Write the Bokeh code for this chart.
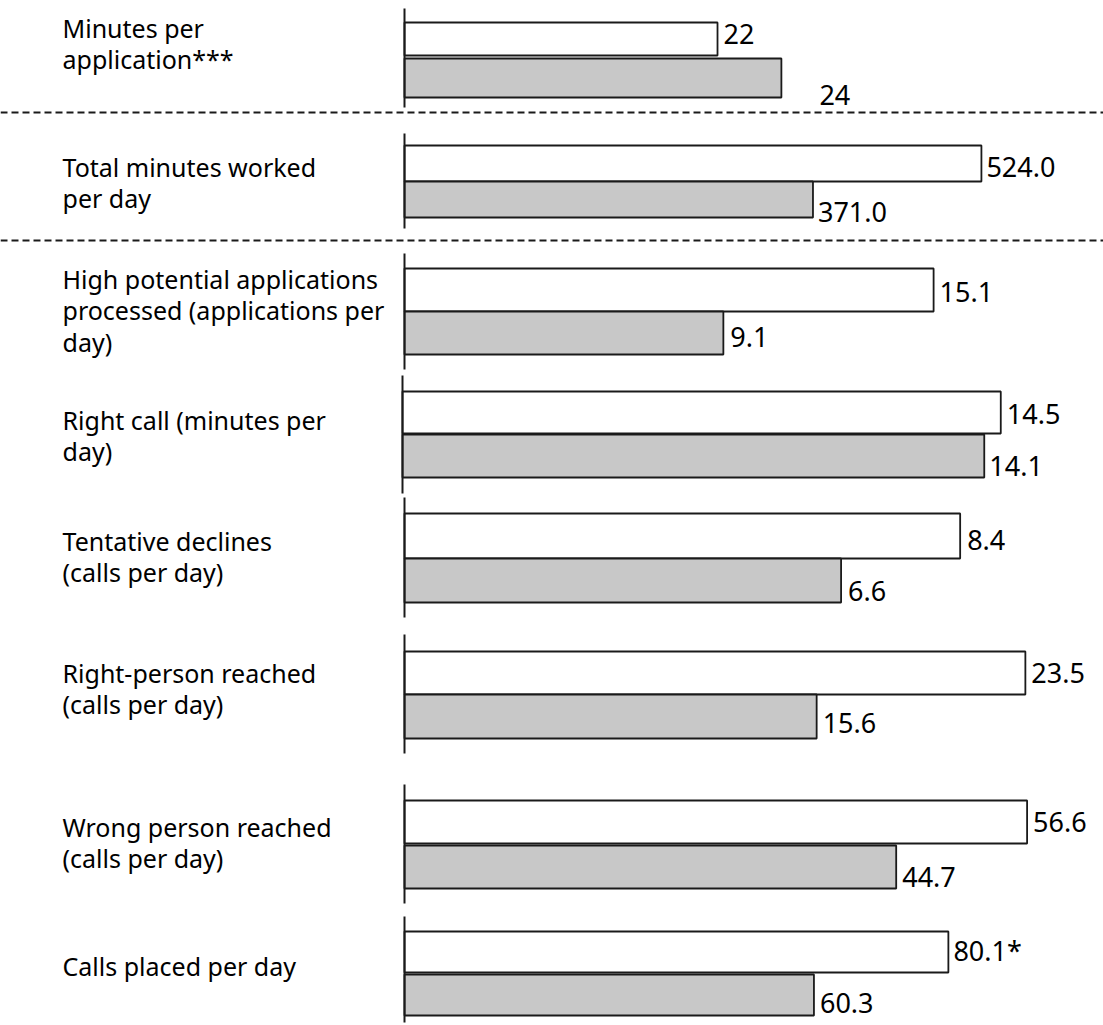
from bokeh.plotting import figure
from bokeh.models import Range1d
from bokeh.core.properties import value
from bokeh.embed import file_html
from bokeh.resources import INLINE

# ---------------- data ----------------
categories = [
    "Minutes per\napplication***",
    "Total minutes worked\nper day",
    "High potential applications\nprocessed (applications per\nday)",
    "Right call (minutes per\nday)",
    "Tentative declines\n(calls per day)",
    "Right-person reached\n(calls per day)",
    "Wrong person reached\n(calls per day)",
    "Calls placed per day",
]
white_values = [22, 524.0, 15.1, 14.5, 8.4, 23.5, 56.6, 80.1]
gray_values = [24, 371.0, 9.1, 14.1, 6.6, 15.6, 44.7, 60.3]
white_labels = ["22", "524.0", "15.1", "14.5", "8.4", "23.5", "56.6", "80.1*"]
gray_labels = ["24", "371.0", "9.1", "14.1", "6.6", "15.6", "44.7", "60.3"]

# per-panel scale: value at the panel's baseline and pixels per unit
panel_base = [12.2, 0, 0, 0, 0, 0, 0, 0]
px_per_unit = [31.94, 1.101, 35.04, 41.26, 66.15, 26.42, 11.0, 6.79]

# ---------------- layout (page pixels) ----------------
LEFT, RIGHT, TOP, BOTTOM = 0, 1103, 0, 1025
axis_px = [404, 404, 404, 402, 404, 404, 404, 404]
axis_span = [(8, 107), (133, 228), (253, 369), (375, 493), (497, 617), (634, 753), (784, 903), (916, 1022)]
white_band = [(22, 55), (145, 181), (268, 311), (391, 433), (513, 558), (651, 694), (800, 843), (931, 972)]
gray_band = [(58, 97), (181, 217), (311, 354), (434, 477), (558, 602), (694, 738), (845, 888), (974, 1015)]
label_center = [43, 182, 310, 435, 556, 688, 842, 965]
white_lab_dx = [6, 5, 6, 6, 7, 6, 6, 5]
white_lab_dy = [-5, 3, 2, 1, 4, 0, 0, -2]
gray_lab_dx = [38, 5, 7, 5, 7, 6, 6, 6]
gray_lab_dy = [17, 12, 4, 10, 10, 6, 10, 8]
dashed_y = [112, 240]

FONT = "Noto Sans"
GRAY = "#c8c8c8"
INK = "#1a1a1a"

p = figure(width=RIGHT - LEFT, height=BOTTOM - TOP,
           x_range=Range1d(LEFT, RIGHT), y_range=Range1d(BOTTOM, TOP),
           output_backend="svg", toolbar_location=None,
           x_axis_location=None, y_axis_location=None, min_border=0)
p.outline_line_color = None
p.xgrid.visible = False
p.ygrid.visible = False
p.background_fill_color = "white"
p.border_fill_color = "white"

for i in range(len(categories)):
    base = panel_base[i]
    s = px_per_unit[i]
    rname = f"panel{i}"
    p.extra_x_ranges[rname] = Range1d(base + (LEFT - axis_px[i]) / s,
                                      base + (RIGHT - axis_px[i]) / s)
    wc = (white_band[i][0] + white_band[i][1]) / 2
    gc = (gray_band[i][0] + gray_band[i][1]) / 2
    wh = white_band[i][1] - white_band[i][0]
    gh = gray_band[i][1] - gray_band[i][0]
    p.hbar(y=[wc, gc], left=base, right=[white_values[i], gray_values[i]],
           height=[wh, gh], fill_color=["white", GRAY], line_color=INK,
           line_width=1.8, x_range_name=rname)
    p.segment(x0=[base], y0=[axis_span[i][0]], x1=[base], y1=[axis_span[i][1]],
              line_color=INK, line_width=2, x_range_name=rname)
    p.text(x=[white_values[i]], y=[wc + white_lab_dy[i]], text=[white_labels[i]],
           x_offset=white_lab_dx[i], x_range_name=rname,
           text_baseline="middle", text_align="left",
           text_font=value(FONT), text_font_size="27px", text_color="black")
    p.text(x=[gray_values[i]], y=[gc + gray_lab_dy[i]], text=[gray_labels[i]],
           x_offset=gray_lab_dx[i], x_range_name=rname,
           text_baseline="middle", text_align="left",
           text_font=value(FONT), text_font_size="27px", text_color="black")

p.text(x=[62] * len(categories), y=label_center, text=categories,
       text_baseline="middle", text_align="left", text_line_height=0.92,
       text_font=value(FONT), text_font_size="25px", text_color="black")

for yy in dashed_y:
    p.segment(x0=[LEFT], y0=[yy], x1=[RIGHT], y1=[yy],
              line_color=INK, line_width=1.8, line_dash="7 4")

open("out.html", "w").write(file_html(p, INLINE))
